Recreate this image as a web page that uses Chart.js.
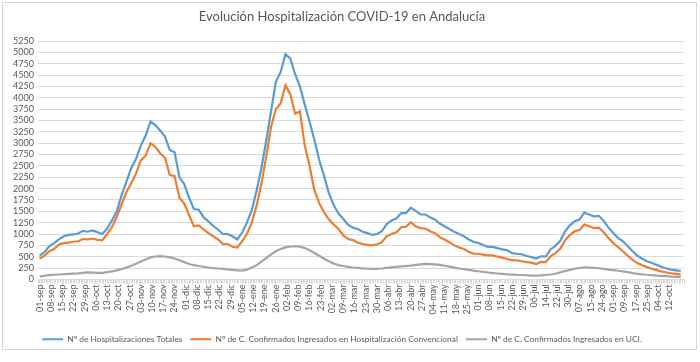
<!DOCTYPE html>
<html>
<head>
<meta charset="utf-8">
<script src="https://cdn.jsdelivr.net/npm/chart.js@4"></script>
<style>
html,body{margin:0;padding:0;background:#fff;}
canvas{display:block;}
</style>
</head>
<body>
<canvas id="c" width="700" height="362"></canvas>
<script>
// Tick labels shown every 7 data points
const tickLabels = ['01-sep','08-sep','15-sep','22-sep','29-sep','06-oct','13-oct','20-oct','27-oct','03-nov','10-nov','17-nov','24-nov','01-dic','08-dic','15-dic','22-dic','29-dic','05-ene','12-ene','19-ene','26-ene','02-feb','09-feb','16-feb','23-feb','02-mar','09-mar','16-mar','23-mar','30-mar','06-abr','13-abr','20-abr','27-abr','04-may','11-may','18-may','25-may','01-jun','08-jun','15-jun','22-jun','29-jun','06-jul','14-jul','22-jul','30-jul','07-ago','15-ago','24-ago','01-sep','09-sep','17-sep','25-sep','04-oct','12-oct'];
const TICK_EVERY = 7;
const STEP = 3; // values sampled every 3 report days

const seriesNames = [
  'Nº de Hospitalizaciones Totales',
  'Nº de C. Confirmados Ingresados en Hospitalización Convencional',
  'Nº de C. Confirmados Ingresados en UCI.'
];

const totales = [530,600,730,800,880,950,980,990,1010,1070,1050,1080,1040,1000,1120,1300,1500,1850,2150,2450,
  2650,2950,3170,3480,3400,3280,3150,2850,2800,2250,2100,1800,1550,1535,1370,1280,1180,1100,1000,1000,
  950,880,1030,1250,1520,1950,2450,3050,3700,4350,4570,4960,4870,4520,4250,3850,3470,3070,2630,2280,
  1900,1640,1450,1330,1200,1140,1110,1050,1020,980,1000,1060,1220,1300,1340,1460,1460,1580,1510,1430,
  1430,1370,1320,1230,1170,1110,1050,1000,950,880,830,800,760,715,715,690,660,640,580,565,
  555,515,490,460,510,500,660,740,850,1060,1190,1280,1320,1470,1430,1390,1400,1290,1140,1020,
  910,840,730,620,520,455,400,360,320,280,240,215,200,185];

const convencional = [460,520,620,670,770,800,810,830,840,890,880,900,870,860,1000,1150,1380,1650,1920,2120,
  2330,2620,2725,3000,2920,2780,2680,2300,2280,1800,1670,1420,1170,1190,1100,1020,950,880,780,780,
  720,700,840,1000,1250,1620,2100,2700,3350,3750,3880,4280,4080,3650,3700,2950,2500,1960,1680,1480,
  1320,1210,1110,970,890,865,810,780,760,750,770,820,950,1000,1040,1150,1160,1260,1170,1130,
  1120,1060,1020,930,880,820,750,705,670,610,565,565,545,530,530,500,480,450,425,420,
  400,380,370,340,385,380,510,580,680,860,980,1060,1090,1210,1170,1130,1140,1040,910,800,
  710,620,520,430,360,310,270,235,205,175,155,135,120,105];

const uci = [62,80,95,102,108,113,120,126,133,143,153,148,143,145,160,175,200,228,260,300,
  345,395,440,485,505,512,505,485,460,420,380,340,315,295,278,262,250,240,230,222,
  210,200,195,215,260,310,390,470,550,620,670,705,725,730,722,690,640,580,520,455,
  400,350,315,295,275,262,255,245,238,232,230,240,255,265,275,285,295,305,318,330,
  340,338,330,320,300,280,258,240,225,210,195,180,165,152,140,130,120,112,106,100,
  97,92,85,85,90,98,108,125,155,185,210,235,255,268,262,255,245,230,215,205,
  190,175,160,140,125,112,102,95,85,78,72,62,55,48];

const colors = ['#5b9bd5','#ed7d31','#a5a5a5'];
const FONT = 'Lato, "Open Sans", sans-serif';
const TEXT = '#595959';
const GRID = '#d9d9d9';

const toPoints = arr => arr.map((v, k) => ({ x: k * STEP, y: v }));

const frame = {
  id: 'frame',
  beforeDraw(chart) {
    const ctx = chart.ctx;
    ctx.save();
    ctx.fillStyle = '#fff';
    ctx.fillRect(0, 0, chart.width, chart.height);
    ctx.strokeStyle = GRID;
    ctx.lineWidth = 1;
    ctx.strokeRect(2.5, 2.5, 694, 347);
    ctx.restore();
  }
};

new Chart(document.getElementById('c'), {
  type: 'line',
  data: {
    datasets: [totales, convencional, uci].map((arr, i) => ({
      label: seriesNames[i],
      data: toPoints(arr),
      borderColor: colors[i],
      backgroundColor: colors[i],
      borderWidth: 2.2,
      pointRadius: 0,
      tension: 0,
      fill: false
    }))
  },
  options: {
    responsive: false,
    animation: false,
    layout: { padding: { left: 0, right: 16, top: 0, bottom: 8.6 } },
    plugins: {
      title: {
        display: true,
        text: 'Evolución Hospitalización COVID-19 en Andalucía',
        color: TEXT,
        font: { family: FONT, size: 13, weight: 'normal' },
        padding: { top: 9.5, bottom: 16 }
      },
      legend: {
        position: 'bottom',
        labels: {
          boxWidth: 21,
          boxHeight: 2,
          padding: 8,
          color: TEXT,
          font: { family: FONT, size: 8.4 },
          generateLabels: chart => Chart.defaults.plugins.legend.labels.generateLabels(chart).map(l => Object.assign(l, { lineWidth: 0 }))
        }
      },
      tooltip: { enabled: false }
    },
    scales: {
      x: {
        type: 'linear',
        min: -1,
        max: 401,
        afterFit: s => { s.height = 47.6; },
        ticks: {
          stepSize: 1,
          autoSkip: false,
          minRotation: 90,
          maxRotation: 90,
          padding: 1,
          color: TEXT,
          font: { family: FONT, size: 9 },
          callback: v => (v >= 0 && v % TICK_EVERY === 0 && tickLabels[v / TICK_EVERY]) ? tickLabels[v / TICK_EVERY] : ''
        },
        grid: { drawOnChartArea: false, color: GRID, tickLength: 4 },
        border: { color: GRID }
      },
      y: {
        min: 0,
        max: 5250,
        afterFit: s => { s.width = 38; },
        ticks: {
          stepSize: 250,
          autoSkip: false,
          padding: 4,
          color: TEXT,
          font: { family: FONT, size: 9 },
          callback: v => String(v)
        },
        grid: { color: GRID, drawTicks: false },
        border: { display: false }
      }
    }
  },
  plugins: [frame]
});
</script>
</body>
</html>
